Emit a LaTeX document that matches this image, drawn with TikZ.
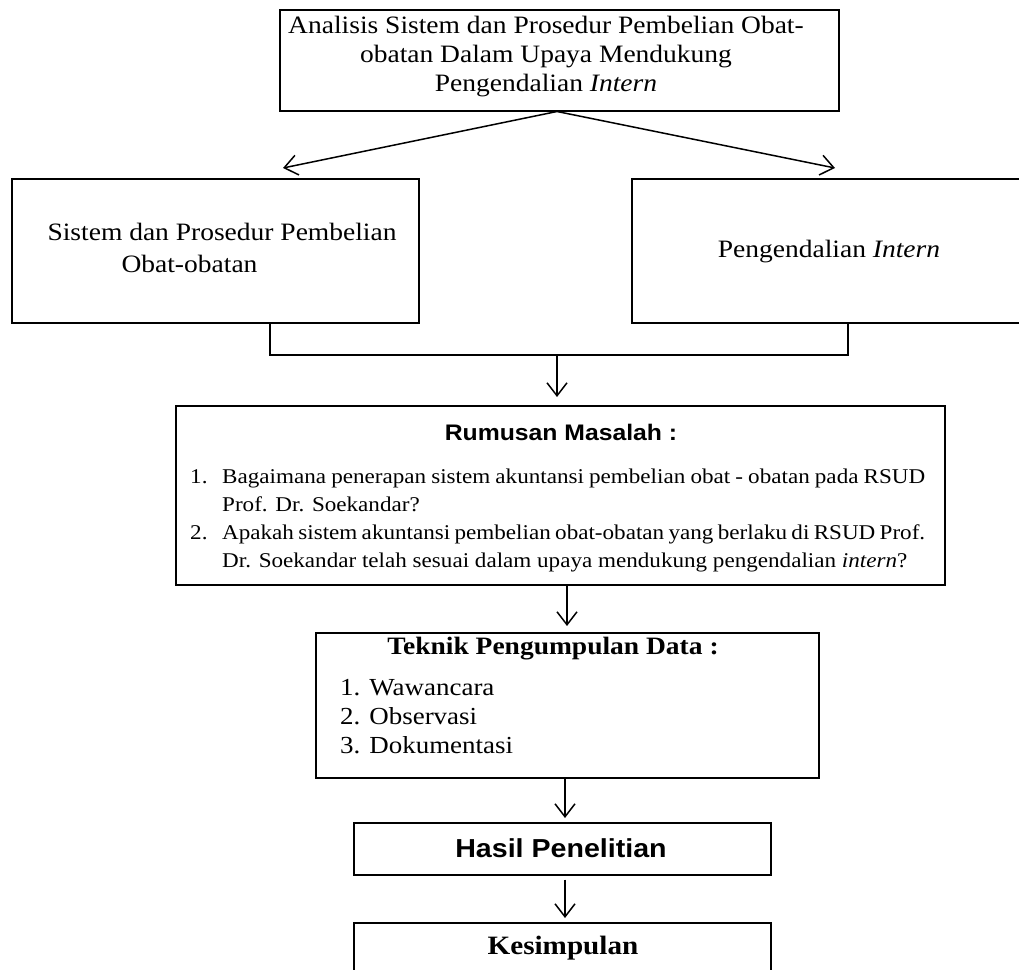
\documentclass[tikz,border=0pt]{standalone}
\usepackage{fontspec}
\setmainfont[FakeStretch=1.1]{Liberation Serif}
\newfontfamily\arialf[FakeStretch=1.1]{Liberation Sans}
\usetikzlibrary{arrows.meta}
\begin{document}
\begin{tikzpicture}[x=1pt,y=-1pt,
  box/.style={draw, line width=1.5pt, inner sep=0pt, anchor=north west},
  arr/.style={line width=1.5pt, -{Straight Barb[length=13pt,width=20pt,line width=1.5pt]}},
  link/.style={line width=1.5pt},
  serif/.style={font=\fontsize{25}{29}\selectfont},
]
\useasboundingbox (0,0) rectangle (1019,969);

% boxes
\node[box, minimum width=559pt, minimum height=101pt] (top) at (279,9) {};
\node[box, minimum width=407pt, minimum height=144pt] (sis) at (11,178) {};
\node[box, minimum width=392pt, minimum height=144pt] (pen) at (631,178) {};
\node[box, minimum width=769pt, minimum height=179pt] (rum) at (175,405) {};
\node[box, minimum width=503pt, minimum height=145pt] (tek) at (315,632) {};
\node[box, minimum width=417pt, minimum height=52pt] (has) at (353,822) {};
\node[box, minimum width=417pt, minimum height=62pt] (kes) at (353,922) {};

% texts
\node[serif, align=center] (toptxt) at (546,57)
  {Analisis Sistem dan Prosedur Pembelian Obat-\\obatan Dalam Upaya Mendukung\\Pengendalian \textit{Intern}};
\node[anchor=west, align=left, font=\fontsize{25}{32}\selectfont] (sistxt) at (44,248)
  {Sistem dan Prosedur Pembelian\\\hspace*{74pt}Obat-obatan};
\node[serif] (pentxt) at (829,252) {Pengendalian \textit{Intern}};

\node[font=\arialf\bfseries\fontsize{22.5}{26}\selectfont] (rumtit) at (561,432) {Rumusan Masalah :};
\node[anchor=west, align=left, inner sep=0pt, font=\fontsize{21}{28}\selectfont] (rumtxt) at (190,520)
  {\makebox[32pt][l]{1.}\hbox to 703pt{Bagaimana penerapan sistem akuntansi pembelian obat - obatan pada RSUD}\\
   \hspace*{32pt}Prof. Dr. Soekandar?\\
   \makebox[32pt][l]{2.}\hbox to 703pt{Apakah sistem akuntansi pembelian obat-obatan yang berlaku di RSUD Prof.}\\
   \hspace*{32pt}Dr. Soekandar telah sesuai dalam upaya mendukung pengendalian \textit{intern}?};

\node[font=\bfseries\fontsize{25}{29}\selectfont] (tektit) at (553,649) {Teknik Pengumpulan Data :};
\node[anchor=west, align=left, inner sep=0pt, font=\fontsize{24.5}{29}\selectfont] (tektxt) at (340,717)
  {1. Wawancara\\2. Observasi\\3. Dokumentasi};

\node[font=\arialf\bfseries\fontsize{26}{30}\selectfont] (hastxt) at (561,848) {Hasil Penelitian};
\node[font=\bfseries\fontsize{26.5}{30}\selectfont] (kestxt) at (563,948) {Kesimpulan};

% connectors
\draw[arr] (top.south -| 557,0) -- (283,168);
\draw[arr] (top.south -| 557,0) -- (835,168);
\coordinate (join) at (557,355);
\draw[link] (sis.south -| 270,0) |- (join) -| (pen.south -| 848,0);
\draw[arr, shorten >=8pt] (join) -- (rum.north -| join);
\draw[arr, shorten >=6pt] (rum.south -| 567,0) -- (tek.north -| 567,0);
\draw[arr, shorten >=4pt] (tek.south -| 565,0) -- (has.north -| 565,0);
\draw[arr, shorten <=4pt, shorten >=4pt] (has.south -| 565,0) -- (kes.north -| 565,0);
\end{tikzpicture}
\end{document}
